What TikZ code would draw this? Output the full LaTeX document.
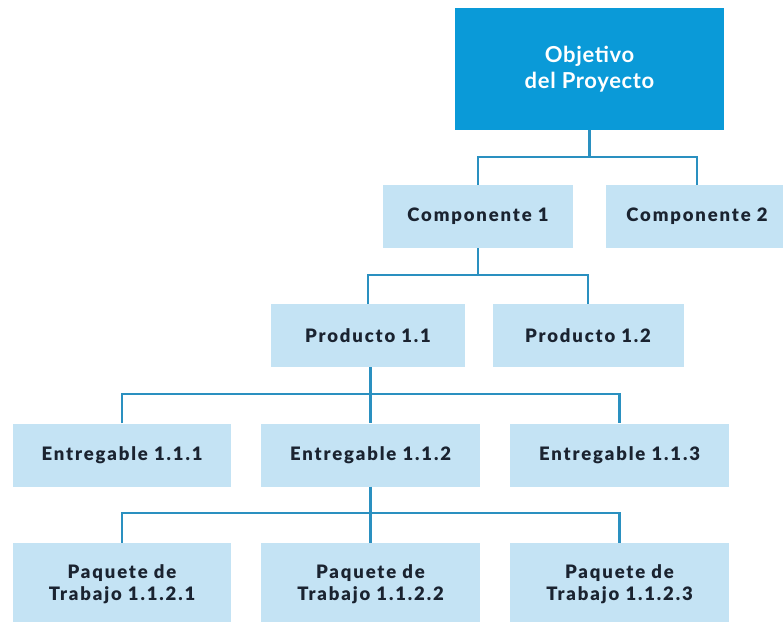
\documentclass[tikz,border=0pt]{standalone}
\usepackage{fontspec}
\setmainfont{Lato}
\newfontfamily\boxfont{Lato Black}[LetterSpace=10]
\newfontfamily\topfont{Lato}[LetterSpace=3]
\definecolor{topblue}{HTML}{0A9AD8}
\definecolor{lightbox}{HTML}{C4E3F4}
\definecolor{linec}{HTML}{2A90C0}
\definecolor{darktext}{HTML}{1A2330}
\begin{document}
\begin{tikzpicture}[x=1pt,y=1pt,
  topbox/.style={fill=topblue,minimum width=269pt,minimum height=122pt,inner sep=0pt,
    text=white,align=center,font=\topfont\bfseries\fontsize{22}{26}\selectfont},
  lbox/.style={fill=lightbox,inner sep=0pt,minimum height=63pt,
    text=darktext,align=center,font=\boxfont\fontsize{18.5}{22}\selectfont},
  conn/.style={draw=linec,line width=2.3pt}]
\useasboundingbox (0,0) rectangle (783,-621);
\clip (0,0) rectangle (783,-621);
% nodes
\node[topbox] (obj) at (589.5,-69) {Objetivo\\del Proyecto};
\node[lbox,minimum width=190pt] (c1) at (478,-216.5) {Componente 1};
\node[lbox,minimum width=182pt] (c2) at (697,-216.5) {Componente 2};
\node[lbox,minimum width=194pt] (p1) at (368,-335.5) {Producto 1.1};
\node[lbox,minimum width=191pt] (p2) at (588,-335.5) {Producto 1.2};
\node[lbox,minimum width=218pt] (e1) at (122,-455) {Entregable 1.1.1};
\node[lbox,minimum width=219pt] (e2) at (370.5,-455) {Entregable 1.1.2};
\node[lbox,minimum width=219pt] (e3) at (619.5,-455) {Entregable 1.1.3};
\node[lbox,minimum width=218pt,minimum height=82pt] (k1) at (122,-584) {Paquete de\\Trabajo 1.1.2.1};
\node[lbox,minimum width=219pt,minimum height=82pt] (k2) at (370.5,-584) {Paquete de\\Trabajo 1.1.2.2};
\node[lbox,minimum width=219pt,minimum height=82pt] (k3) at (619.5,-584) {Paquete de\\Trabajo 1.1.2.3};
% junction levels
\coordinate (j1) at (0,-157);
\coordinate (j2) at (0,-275);
\coordinate (j3) at (0,-394);
\coordinate (j4) at (0,-513);
% connectors
\draw[conn] (obj.south) -- (obj.south |- j1);
\draw[conn] (c1.north) |- (obj.south |- j1) -| (c2.north);
\draw[conn] (c1.south) -- (c1.south |- j2);
\draw[conn] (p1.north) |- (c1.south |- j2) -| (p2.north);
\draw[conn] (p1.south -| e2.north) -- (e2.north);
\draw[conn] (e1.north) |- (e2.north |- j3) -| (e3.north);
\draw[conn] (e2.south) -- (k2.north);
\draw[conn] (k1.north) |- (k2.north |- j4) -| (k3.north);
\end{tikzpicture}
\end{document}
